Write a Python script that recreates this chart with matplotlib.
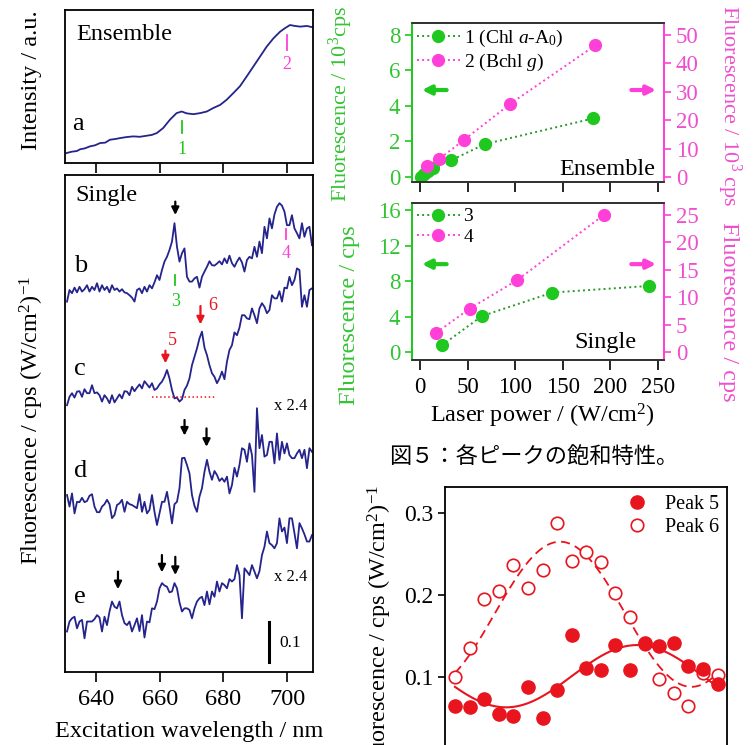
import numpy as np
import matplotlib
matplotlib.use("Agg")
import matplotlib.pyplot as plt
from matplotlib.lines import Line2D

W, H = 755, 745
plt.rcParams.update({
    "font.family": ["Liberation Serif", "DejaVu Serif"],
    "mathtext.fontset": "custom",
    "mathtext.rm": "Liberation Serif",
    "mathtext.it": "Liberation Serif:italic",
    "axes.linewidth": 1.3,
})

# ---------------- data ----------------
# (a) ensemble excitation spectrum
wl_a = [630.8, 632.4, 634.0, 635.0, 636.5, 638.1, 639.7, 641.3, 642.9, 644.4, 646.0, 647.5,
        649.6, 651.7, 653.8, 655.9, 657.5, 659.1, 661.1, 663.2, 665.3, 666.9, 668.5, 670.6,
        672.7, 674.8, 676.8, 679.0, 681.0, 683.1, 685.2, 687.3, 689.4, 691.5, 693.6, 695.7,
        697.8, 699.3, 700.9, 702.5, 704.1, 706.2, 708.1]
int_a = [0.050, 0.060, 0.065, 0.078, 0.085, 0.100, 0.108, 0.125, 0.128, 0.150, 0.155, 0.162,
         0.170, 0.175, 0.172, 0.180, 0.186, 0.200, 0.238, 0.300, 0.350, 0.362, 0.348, 0.342,
         0.350, 0.362, 0.388, 0.412, 0.450, 0.500, 0.552, 0.625, 0.700, 0.775, 0.850, 0.912,
         0.962, 0.988, 1.012, 1.005, 1.000, 1.005, 0.995]

# (b)-(e) single-complex excitation spectra, displayed values
wl_scan = np.linspace(630.9, 707.8, 99)
sig_b = [0.017, 0.046, 0.038, 0.052, 0.040, 0.054, 0.042, 0.048, 0.058, 0.042,
         0.054, 0.046, 0.063, 0.042, 0.058, 0.046, 0.054, 0.040, 0.058, 0.046,
         0.050, 0.042, 0.048, 0.040, 0.038, 0.033, 0.027, 0.017, 0.046, 0.050,
         0.038, 0.054, 0.042, 0.058, 0.050, 0.065, 0.083, 0.071, 0.096, 0.117,
         0.129, 0.146, 0.167, 0.213, 0.154, 0.117, 0.138, 0.150, 0.079, 0.067,
         0.067, 0.075, 0.079, 0.052, 0.079, 0.092, 0.104, 0.118, 0.108, 0.107,
         0.112, 0.118, 0.110, 0.125, 0.113, 0.132, 0.113, 0.104, 0.117, 0.127,
         0.115, 0.092, 0.121, 0.129, 0.125, 0.154, 0.129, 0.167, 0.138, 0.204,
         0.175, 0.225, 0.200, 0.235, 0.254, 0.263, 0.257, 0.242, 0.208, 0.208,
         0.233, 0.200, 0.188, 0.175, 0.213, 0.179, 0.200, 0.204, 0.158]
sig_c = [0.008, 0.029, 0.038, 0.027, 0.042, 0.043, 0.029, 0.048, 0.038, 0.038,
         0.058, 0.038, 0.040, 0.033, 0.017, 0.033, 0.025, 0.013, 0.033, 0.015,
         0.025, 0.035, 0.025, 0.043, 0.042, 0.033, 0.054, 0.043, 0.052, 0.060,
         0.050, 0.068, 0.060, 0.052, 0.063, 0.046, 0.050, 0.060, 0.067, 0.079,
         0.096, 0.075, 0.046, 0.025, 0.027, 0.017, 0.023, 0.046, 0.057, 0.075,
         0.108, 0.129, 0.150, 0.175, 0.192, 0.152, 0.133, 0.108, 0.088, 0.079,
         0.063, 0.075, 0.092, 0.073, 0.117, 0.146, 0.158, 0.190, 0.183, 0.202,
         0.233, 0.233, 0.225, 0.223, 0.250, 0.233, 0.213, 0.250, 0.263, 0.254,
         0.238, 0.246, 0.283, 0.275, 0.275, 0.293, 0.267, 0.302, 0.300, 0.329,
         0.308, 0.321, 0.350, 0.346, 0.254, 0.283, 0.254, 0.296, 0.300]
sig_d = [0.050, 0.021, 0.054, 0.004, 0.033, 0.032, 0.043, 0.032, 0.035, 0.048,
         0.052, 0.021, 0.007, 0.007, 0.021, 0.027, 0.038, 0.027, -0.008, 0.000,
         0.025, 0.029, 0.038, 0.008, 0.033, 0.027, 0.025, 0.021, 0.017, 0.052,
         0.008, 0.033, 0.004, 0.013, 0.050, 0.008, -0.025, 0.004, 0.033, 0.033,
         0.058, 0.021, -0.021, 0.027, 0.033, 0.067, 0.142, 0.143, 0.125, 0.104,
         0.050, 0.023, 0.008, 0.046, 0.067, 0.108, 0.138, 0.108, 0.088, 0.110,
         0.100, 0.085, 0.092, 0.083, 0.096, 0.054, 0.075, 0.118, 0.096, 0.125,
         0.167, 0.163, 0.133, 0.179, 0.150, 0.058, 0.267, 0.167, 0.200, 0.146,
         0.150, 0.183, 0.183, 0.129, 0.204, 0.138, 0.183, 0.154, 0.179, 0.150,
         0.142, 0.142, 0.154, 0.163, 0.142, 0.163, 0.117, 0.167, 0.158]
sig_e = [0.042, 0.067, 0.075, 0.079, 0.050, 0.067, 0.071, 0.025, 0.067, 0.067,
         0.067, 0.073, 0.083, 0.077, 0.042, 0.079, 0.058, 0.092, 0.117, 0.104,
         0.100, 0.117, 0.083, 0.063, 0.058, 0.067, 0.042, 0.058, 0.075, 0.043,
         0.083, 0.027, 0.067, 0.065, 0.100, 0.098, 0.117, 0.150, 0.163, 0.157,
         0.154, 0.140, 0.142, 0.163, 0.150, 0.115, 0.092, 0.100, 0.100, 0.096,
         0.075, 0.100, 0.117, 0.125, 0.129, 0.108, 0.142, 0.110, 0.142, 0.129,
         0.167, 0.142, 0.163, 0.158, 0.150, 0.173, 0.167, 0.173, 0.208, 0.183,
         0.075, 0.200, 0.192, 0.183, 0.208, 0.192, 0.175, 0.193, 0.233, 0.254,
         0.292, 0.263, 0.258, 0.250, 0.263, 0.325, 0.292, 0.302, 0.263, 0.325,
         0.325, 0.288, 0.250, 0.313, 0.300, 0.285, 0.267, 0.267, 0.283]
offsets = {"b": 0.909, "c": 0.659, "d": 0.3925, "e": 0.0592}

# saturation: ensemble
pw_1 = [1, 4, 8, 14, 33, 68, 182]
fl_1 = [0.02, 0.15, 0.34, 0.52, 0.95, 1.85, 3.3]           # 10^3 cps
pw_2 = [7, 20, 46, 95, 184]
fl_2 = [4.0, 6.3, 13.0, 25.8, 46.3]                         # 10^3 cps
# saturation: single
pw_3 = [23, 65, 139, 241]
fl_3 = [0.75, 4.05, 6.7, 7.45]                              # cps
pw_4 = [17, 52, 102, 193]
fl_4 = [3.5, 7.9, 13.1, 25.0]                               # cps

# polarization dependence of peaks 5 and 6
angle = [0, 10, 20, 30, 40, 50, 60, 70, 80, 90, 100, 110, 120, 130, 140, 150, 160, 170, 180]
peak5 = [0.065, 0.063, 0.073, 0.055, 0.053, 0.088, 0.050, 0.084, 0.151, 0.111,
         0.109, 0.139, 0.109, 0.141, 0.138, 0.141, 0.113, 0.110, 0.092]
peak6 = [0.100, 0.135, 0.195, 0.205, 0.236, 0.208, 0.231, 0.288, 0.241, 0.253,
         0.240, 0.202, 0.173, 0.140, 0.097, 0.080, 0.065, 0.105, 0.103]
# cos^2 fits: offset, amplitude, phase (deg)
fit5 = (0.063, 0.076, 125.0)
fit6 = (0.088, 0.177, 72.0)

# ---------------- styling ----------------
navy = "#24248c"
green = "#1ec81e"
green_txt = "#33c433"
green_line = "#2a9a2a"
pink = "#ff40d8"
pink_txt = "#ee4fcf"
red = "#e8141e"
FS = 17.5

fig = plt.figure(figsize=(W / 100, H / 100), dpi=100)


def axes_px(l, t, r, b):
    return fig.add_axes([l / W, 1 - b / H, (r - l) / W, (b - t) / H])


def ftext(x, y, s, **kw):
    fig.text(x / W, 1 - y / H, s, **kw)


def arrow(ax, x, y0, y1, color="k", lw=1.6, ms=11):
    ax.annotate("", xy=(x, y1), xytext=(x, y0),
                arrowprops=dict(arrowstyle="-|>", color=color, lw=lw,
                                mutation_scale=ms, shrinkA=0, shrinkB=0))


# ---------------- left column: spectra ----------------
xlim_wl = (630.27, 708.13)
ax_a = axes_px(65, 10, 313, 163)
ax_a.plot(wl_a, int_a, color=navy, lw=1.3)
ax_a.set_xlim(*xlim_wl)
ax_a.set_ylim(-0.025, 1.125)
ax_a.set_yticks([])
ax_a.set_xticks([640, 660, 680, 700])
ax_a.tick_params(axis="x", direction="out", length=7, width=1.2, labelbottom=False)
ax_a.text(633.9, 0.90, "Ensemble", fontsize=FS, va="baseline")
ax_a.text(632.4, 0.225, "a", fontsize=19, va="baseline")
ax_a.plot([666.9, 666.9], [0.20, 0.2875], color=green, lw=1.3)
ax_a.text(666.9, 0.075, "1", color=green, fontsize=13, ha="center", va="center")
ax_a.plot([699.9, 699.9], [0.825, 0.9375], color=pink, lw=1.3)
ax_a.text(699.9, 0.7125, "2", color=pink, fontsize=13, ha="center", va="center")

ax_s = axes_px(65, 175, 313, 672)
for key, sig in (("b", sig_b), ("c", sig_c), ("d", sig_d), ("e", sig_e)):
    ax_s.plot(wl_scan, np.array(sig) + offsets[key], color=navy, lw=1.3)
ax_s.set_xlim(*xlim_wl)
ax_s.set_ylim(0, 1.2425)
ax_s.set_yticks([])
ax_s.set_xticks([640, 660, 680, 700])
ax_s.tick_params(axis="x", direction="out", length=7, width=1.2, labelsize=FS, pad=5)

ax_s.text(633.5, 1.1775, "Single", fontsize=FS, va="baseline")
for lab, yb in (("b", 1.001), ("c", 0.7425), ("d", 0.4883), ("e", 0.1717)):
    ax_s.text(633.0, yb, lab, fontsize=19, va="baseline")

arrow(ax_s, 664.9, 1.176, 1.1425)
ax_s.plot([664.9, 664.9], [0.9675, 0.9925], color=green, lw=1.3)
ax_s.text(664.9, 0.9275, "3", color=green, fontsize=13, ha="center", va="center")
ax_s.plot([699.7, 699.7], [1.0825, 1.1075], color=pink, lw=1.3)
ax_s.text(699.7, 1.045, "4", color=pink, fontsize=13, ha="center", va="center")

arrow(ax_s, 661.8, 0.8033, 0.7717, color=red)
ax_s.text(664.0, 0.8283, "5", color=red, fontsize=13, ha="center", va="center")
arrow(ax_s, 672.8, 0.915, 0.869, color=red)
ax_s.text(676.6, 0.9175, "6", color=red, fontsize=13, ha="center", va="center")
ax_s.hlines(offsets["c"] + 0.0275, 657.6, 677.5, colors=red, linestyles=":", lw=1.1)

arrow(ax_s, 667.8, 0.630, 0.591)
arrow(ax_s, 674.7, 0.609, 0.563)
arrow(ax_s, 646.9, 0.251, 0.207)
arrow(ax_s, 660.7, 0.2925, 0.249)
arrow(ax_s, 664.9, 0.288, 0.2425)

ax_s.text(695.8, 0.665, "x 2.4", fontsize=12, va="center")
ax_s.text(695.8, 0.2367, "x 2.4", fontsize=12, va="center")
ax_s.plot([694.4, 694.4], [0.0258, 0.1258], color="k", lw=2.2)
ax_s.text(697.6, 0.0717, "0.1", fontsize=12.5, va="center")

ftext(32, 80, "Intensity / a.u.", rotation=90, ha="center", va="center", fontsize=FS)
ftext(32, 420, r"Fluorescence / cps (W/cm$^2$)$^{-1}$", rotation=90,
      ha="center", va="center", fontsize=FS)
ftext(189, 731, "Excitation wavelength / nm", ha="center", va="center", fontsize=FS)

# ---------------- right column: saturation ----------------


def sat_panel(t, b, ylim_l, ylim_r, yt_l, yt_r, xs, ys, labels, label_text, show_x):
    ax = axes_px(412, t, 664, b)
    ax2 = ax.twinx()
    h1, = ax.plot(xs[0], ys[0], ls=":", color=green_line, lw=1.4, marker="o", ms=8.5,
                  mfc=green, mec=green, label=labels[0])
    h2, = ax2.plot(xs[1], ys[1], ls=":", color=pink, lw=1.4, marker="o", ms=8.5,
                   mfc=pink, mec=pink, label=labels[1])
    ax.set_xlim(-8.4, 256.3)
    ax.set_ylim(*ylim_l)
    ax2.set_ylim(*ylim_r)
    ax.set_yticks(yt_l)
    ax2.set_yticks(yt_r)
    ax.set_xticks([0, 50, 100, 150, 200, 250])
    ax.tick_params(axis="x", direction="out", length=7, width=1.2, labelsize=16.5,
                   labelbottom=show_x, pad=5)
    ax.tick_params(axis="y", direction="out", length=5, width=1.2, colors=green,
                   labelcolor=green_txt, labelsize=16.5)
    ax2.tick_params(axis="y", direction="out", length=5, width=1.2, colors=pink,
                    labelcolor=pink_txt, labelsize=16.5)
    for a in (ax, ax2):
        a.spines["left"].set_color(green)
        a.spines["right"].set_color(pink)
        a.spines["top"].set_color("#333333")
        a.spines["bottom"].set_color("#333333")
    ax2.legend(handles=[h1, h2], loc="upper left", frameon=False, fontsize=14,
               handlelength=2.2, handletextpad=0.2, borderaxespad=0.0, borderpad=0.25,
               labelspacing=0.15, numpoints=1)
    ax.text(0.93, 0.045, label_text, transform=ax.transAxes, ha="right",
            va="baseline", fontsize=FS)
    return ax


ax_ens = sat_panel(23, 182, (-0.282, 8.676), (-1.76, 54.2), [0, 2, 4, 6, 8],
                   [0, 10, 20, 30, 40, 50], (pw_1, pw_2), (fl_1, fl_2),
                   (r"1 (Chl $a$-A$_0$)", r"2 (Bchl $g$)"), "Ensemble", False)
ax_ens.texts[-1].set_position((0.964, 0.044))
ax_sgl = sat_panel(203, 360, (-0.90, 16.79), (-1.46, 27.19), [0, 4, 8, 12, 16],
                   [0, 5, 10, 15, 20, 25], (pw_3, pw_4), (fl_3, fl_4),
                   ("3", "4"), "Single", True)
ax_sgl.texts[-1].set_position((0.889, 0.076))

for ax, ya in ((ax_ens, 4.9), (ax_sgl, 9.9)):
    ax.annotate("", xy=(2, ya), xytext=(28, ya),
                arrowprops=dict(arrowstyle="-|>", color=green, lw=3,
                                mutation_scale=13, shrinkA=0, shrinkB=0))
    ax.annotate("", xy=(248, ya), xytext=(222, ya),
                arrowprops=dict(arrowstyle="-|>", color=pink, lw=3,
                                mutation_scale=13, shrinkA=0, shrinkB=0))

ftext(341, 104, "Fluorescence / 10$^3$cps", rotation=90, ha="center", va="center",
      fontsize=16, color=green_txt)
ftext(349, 315, "Fluorescence / cps", rotation=90, ha="center", va="center",
      fontsize=FS, color=green_txt)
ftext(729, 106, "Fluorescence / 10$^3$ cps", rotation=270, ha="center", va="center",
      fontsize=16, color=pink_txt)
ftext(729, 312, "Fluorescence / cps", rotation=270, ha="center", va="center",
      fontsize=FS, color=pink_txt)
ftext(542, 416, "Laser power / (W/cm$^2$)", ha="center", va="center", fontsize=FS)

ftext(534, 456, "図５：各ピークの飽和特性。", ha="center", va="center", fontsize=16,
      family=["Noto Sans CJK JP", "DejaVu Sans"])

# ---------------- polarization panel ----------------
ax_p = axes_px(445, 487, 727, 770)
theta = np.linspace(0, 180, 200)
f6 = fit6[0] + fit6[1] * np.cos(np.radians(theta - fit6[2])) ** 2
f5 = fit5[0] + fit5[1] * np.cos(np.radians(theta - fit5[2])) ** 2
ax_p.plot(theta, f6, color=red, lw=1.3, ls=(0, (5, 3)))
ax_p.plot(theta, f5, color=red, lw=1.5)
ax_p.plot(angle, peak6, ls="none", marker="o", ms=9, mfc="white", mec=red, mew=1.2,
          label="Peak 6")
ax_p.plot(angle, peak5, ls="none", marker="o", ms=9.5, mfc=red, mec=red, label="Peak 5")
ax_p.set_xlim(-6.8, 186.4)
ax_p.set_ylim(-0.0134, 0.3317)
ax_p.set_yticks([0.1, 0.2, 0.3])
ax_p.set_xticks([])
ax_p.tick_params(axis="y", direction="out", length=5, width=1.2, labelsize=17)
hp5 = Line2D([], [], ls="none", marker="o", ms=9.5, mfc=red, mec=red)
hp6 = Line2D([], [], ls="none", marker="o", ms=9, mfc="white", mec=red, mew=1.2)
ax_p.legend([hp5, hp6], ["Peak 5", "Peak 6"], loc="upper right", frameon=False,
            fontsize=14.5, handletextpad=0.4, borderaxespad=0.1, borderpad=0.3,
            labelspacing=0.2)
ftext(380, 485, r"Fluorescence / cps (W/cm$^2$)$^{-1}$", rotation=90, ha="center",
      va="top", fontsize=FS)

fig.savefig("out.png", dpi=100)
